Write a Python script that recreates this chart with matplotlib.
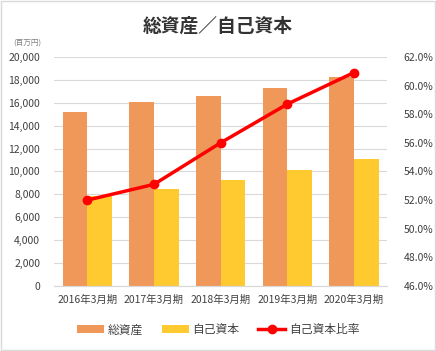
import numpy as np
import matplotlib
matplotlib.use('Agg')
import matplotlib.pyplot as plt
from matplotlib.ticker import FuncFormatter, MultipleLocator

plt.rcParams['font.family'] = ['Noto Sans CJK JP', 'DejaVu Sans']

periods = ['2016年3月期', '2017年3月期', '2018年3月期', '2019年3月期', '2020年3月期']
total_assets = [15150, 16050, 16550, 17250, 18250]   # 総資産
equity = [7850, 8470, 9260, 10130, 11090]            # 自己資本
equity_ratio = [52.0, 53.1, 56.0, 58.7, 60.9]        # 自己資本比率(%)

c_orange = '#F0975A'
c_yellow = '#FFCA30'
c_red = '#FF0000'
c_text = '#404040'

fig = plt.figure(figsize=(4.36, 3.51), dpi=100)
ax = fig.add_axes([0.124, 0.185, 0.764, 0.653])
ax2 = ax.twinx()

x = np.arange(len(periods))
w = 0.37
ax.bar(x - w/2, total_assets, w, color=c_orange, label='総資産', zorder=2)
ax.bar(x + w/2, equity, w, color=c_yellow, label='自己資本', zorder=2)
ax2.plot(x, equity_ratio, color=c_red, lw=2.5, marker='o', ms=6, label='自己資本比率', zorder=3)

ax.set_xlim(-0.5, len(periods) - 0.5)
ax.set_ylim(0, 20000)
ax.yaxis.set_major_locator(MultipleLocator(2000))
ax.yaxis.set_major_formatter(FuncFormatter(lambda v, p: '{:,.0f}'.format(v)))
ax2.set_ylim(46, 62)
ax2.yaxis.set_major_locator(MultipleLocator(2))
ax2.yaxis.set_major_formatter(FuncFormatter(lambda v, p: '%.1f%%' % v))

ax.set_xticks(x)
ax.set_xticklabels(periods)
ax.grid(axis='y', color='#D9D9D9', lw=0.8, zorder=0)
ax.set_axisbelow(True)
for a in (ax, ax2):
    for s in ('top', 'left', 'right'):
        a.spines[s].set_visible(False)
    a.spines['bottom'].set_color('#D9D9D9')
    a.tick_params(length=0, labelsize=7.5, colors=c_text)
ax.tick_params(axis='y', pad=10)
ax2.tick_params(axis='y', pad=12)
ax.tick_params(axis='x', pad=6)

fig.text(0.5, 0.925, '総資産／自己資本', ha='center', va='center', fontsize=13.5,
         fontweight='bold', color='#333333')
fig.text(0.03, 0.88, '(百万円)', ha='left', va='center', fontsize=5.5, color='#808080')

h1, l1 = ax.get_legend_handles_labels()
h2, l2 = ax2.get_legend_handles_labels()
fig.legend(h1 + h2, l1 + l2, loc='center', bbox_to_anchor=(0.5, 0.06), ncol=3, frameon=False,
           fontsize=8.5, handlelength=2.3, handleheight=0.7, columnspacing=1.6, handletextpad=0.3,
           labelcolor=c_text)

fig.patches.append(plt.Rectangle((0.002, 0.003), 0.995, 0.993, transform=fig.transFigure,
                                 fill=False, edgecolor='#D9D9D9', lw=1))

fig.savefig('out.png', dpi=100)
